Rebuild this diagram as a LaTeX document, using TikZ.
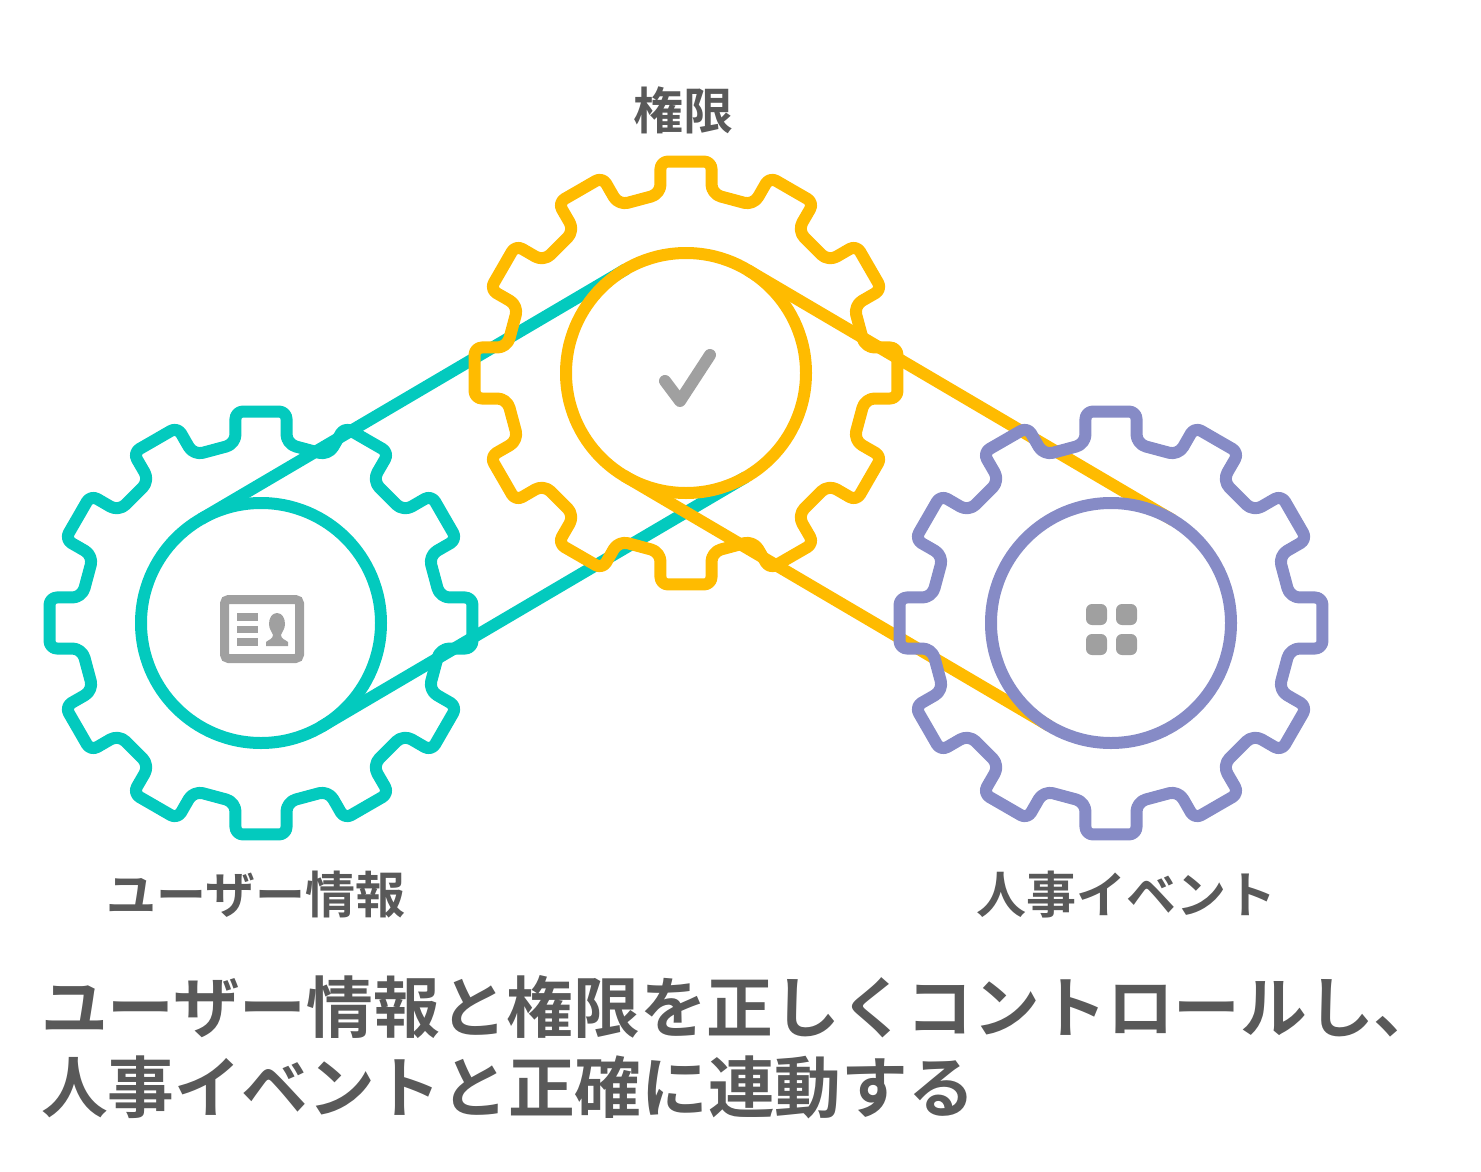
\documentclass[tikz,border=0pt]{standalone}
\usepackage{fontspec}
\setmainfont{Noto Sans CJK JP}[BoldFont={Noto Sans CJK JP Bold}]
\definecolor{tealc}{HTML}{03CABE}
\definecolor{yellowc}{HTML}{FFBB00}
\definecolor{purplec}{HTML}{868BC6}
\definecolor{iconc}{HTML}{A0A0A0}
\definecolor{textc}{HTML}{595959}
\newcommand{\toothseg}[1]{-- ({#1-8.11}:180.8) [rounded corners=7.5pt] -- ({#1-6.89}:213) -- ({#1+6.89}:213) [rounded corners=9.5pt] -- ({#1+8.11}:180.8)}
\newcommand{\gearoutline}{\toothseg{30}\toothseg{60}\toothseg{90}\toothseg{120}\toothseg{150}\toothseg{180}\toothseg{210}\toothseg{240}\toothseg{270}\toothseg{300}\toothseg{330}}
\tikzset{
  x=1pt,y=-1pt,
  geartrace/.style={line width=12pt,line join=round,rounded corners=9.5pt},
  hub/.style={circle,draw,line width=12pt,minimum size=240pt,inner sep=0pt,outer sep=0pt},
  belt/.style={line width=12pt},
  lab/.style={font=\bfseries\fontsize{50}{50}\selectfont,text=textc,inner sep=0pt,anchor=base west},
  ttl/.style={font=\bfseries\fontsize{66.7}{66.7}\selectfont,text=textc,inner sep=0pt,anchor=base west},
}
\begin{document}
\begin{tikzpicture}
\useasboundingbox (0,0) rectangle (1481,1172);
\coordinate (g1) at (261,623);
\coordinate (g2) at (686,373);
\coordinate (g3) at (1111,623);
% teal gear
\node[hub,color=tealc] (c1) at (g1) {};
\draw[geartrace,color=tealc,shift={(g1)}] (-8.11:180.8) [rounded corners=7.5pt] -- (-6.89:213) -- (6.89:213) [rounded corners=9.5pt] -- (8.11:180.8) \gearoutline -- cycle;
% hub anchors for the belts
\node[hub,draw=none] (c2) at (g2) {};
\node[hub,draw=none] (c3) at (g3) {};
\draw[belt,color=tealc] (c1.120.47) -- (c2.120.47);
\draw[belt,color=tealc] (c1.300.47) -- (c2.300.47);
\draw[belt,color=yellowc] (c2.59.53) -- (c3.59.53);
\draw[belt,color=yellowc] (c2.239.53) -- (c3.239.53);
% yellow gear
\node[hub,color=yellowc] (c2b) at (g2) {};
\draw[geartrace,color=yellowc,shift={(g2)}] (-8.11:180.8) [rounded corners=7.5pt] -- (-6.89:213) -- (6.89:213) [rounded corners=9.5pt] -- (8.11:180.8) \gearoutline -- cycle;
% purple gear
\node[hub,color=purplec] (c3b) at (g3) {};
\draw[geartrace,color=purplec,shift={(g3)}] (-8.11:180.8) [rounded corners=7.5pt] -- (-6.89:213) -- (6.89:213) [rounded corners=9.5pt] -- (8.11:180.8) \gearoutline -- cycle;
% card icon
\draw[iconc,line width=9pt,rounded corners=4pt] (224.5,599.5) rectangle (299.5,658.5);
\fill[iconc] (237,613) rectangle (258,621);
\fill[iconc] (237,626) rectangle (258,633);
\fill[iconc] (237,638) rectangle (258,646);
\fill[iconc] (277,613) .. controls (272,613) and (269,618) .. (269,624) .. controls (269,629) and (272,632) .. (273,635) .. controls (273,639) and (268,640) .. (266,642) -- (266,646) -- (288,646) -- (288,642) .. controls (286,640) and (281,639) .. (281,635) .. controls (282,632) and (285,629) .. (285,624) .. controls (285,618) and (282,613) .. (277,613) -- cycle;
% check icon
\draw[iconc,line width=12pt,line cap=round,line join=round] (665,381) -- (680,401) -- (710,355);
% grid icon
\fill[iconc,rounded corners=6pt] (1086,604) rectangle (1107,625);
\fill[iconc,rounded corners=6pt] (1116,604) rectangle (1137,625);
\fill[iconc,rounded corners=6pt] (1086,634) rectangle (1107,655);
\fill[iconc,rounded corners=6pt] (1116,634) rectangle (1137,655);
% labels
\node[lab] (l2) at (633,129) {権限};
\node[lab] (l1) at (106,913) {ユーザー情報};
\node[lab] (l3) at (976,913) {人事イベント};
\node[ttl] (t1) at (41,1032.5) {ユーザー情報と権限を正しくコントロールし、};
\node[ttl] (t2) at (41,1112.5) {人事イベントと正確に連動する};
\end{tikzpicture}
\end{document}
